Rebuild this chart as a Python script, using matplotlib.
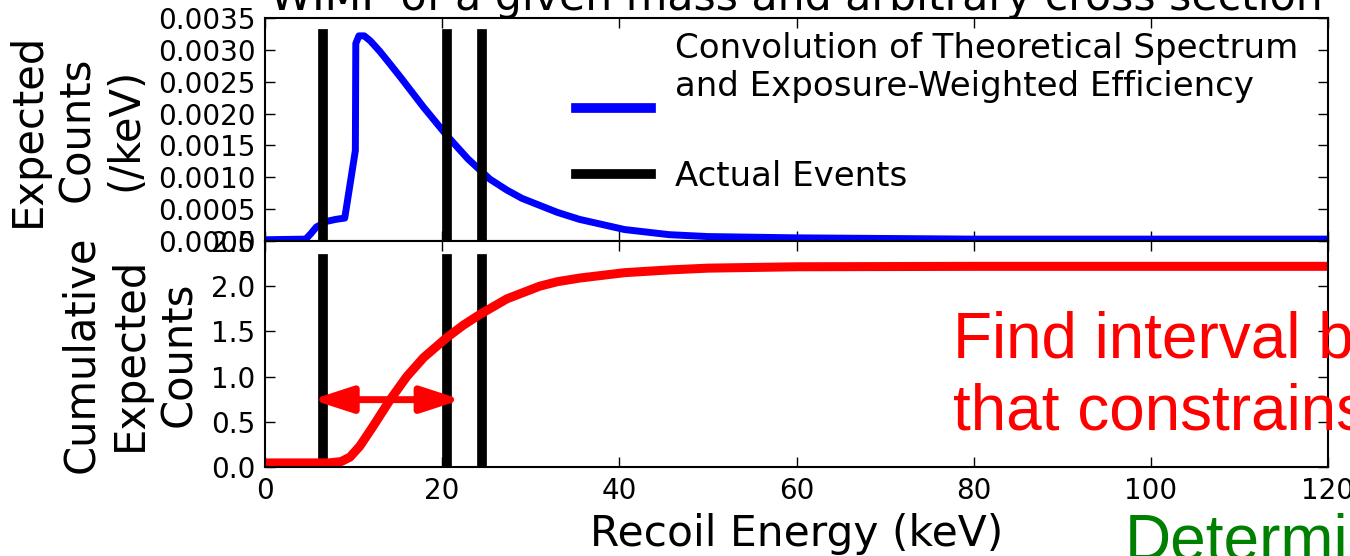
import numpy as np
import matplotlib
matplotlib.use('Agg')
from matplotlib import pyplot as plt
from matplotlib.offsetbox import TextArea
import matplotlib as mpl

mpl.rcParams['font.family'] = 'DejaVu Sans'
mpl.rcParams['axes.linewidth'] = 1.5

# expected differential counts (convolution of spectrum and efficiency)
spec_energy = [0, 4.6, 5.2, 5.8, 7.0, 8.0, 9.0, 10.2, 10.25, 10.6, 11.2, 11.9, 13.0, 14.1,
               15.3, 17.9, 20.5, 22.9, 24.3, 25.4, 27.3, 29.0, 31.0, 33.0, 35.5, 40.6,
               45.6, 50, 60, 80, 100, 120]
spec_counts = [0.00002, 0.00003, 0.00012, 0.00022, 0.00031, 0.00034, 0.00036, 0.00142,
               0.0031, 0.00322, 0.00322, 0.00314, 0.00297, 0.00278, 0.00257, 0.0021,
               0.00166, 0.00129, 0.00111, 0.00097, 0.0008, 0.00067, 0.00056, 0.00045,
               0.00034, 0.00018, 0.0001, 0.00007, 0.00005, 0.00003, 0.00003, 0.00003]

# cumulative expected counts
cum_energy = [0, 7.2, 8.6, 9.6, 10.7, 12.2, 14.1, 16.0, 17.9, 20.5, 22.4, 24.3, 27.3,
              31.0, 33.0, 35.5, 40.6, 45.6, 50, 60, 80, 100, 120]
cum_counts = [0.045, 0.045, 0.06, 0.11, 0.23, 0.45, 0.74, 1.0, 1.21, 1.43, 1.57, 1.69,
              1.86, 2.0, 2.05, 2.09, 2.15, 2.18, 2.20, 2.215, 2.22, 2.22, 2.22]

events = [6.6, 20.5, 24.5]
arrow_x = [5.27, 22.2]
arrow_y = 0.745

title = 'WIMP of a given mass and arbitrary cross section'

fig = plt.figure(figsize=(13.5, 5.56), dpi=100)
ax1 = fig.add_axes([0.1963, 0.5665, 0.7874, 0.4011])
ax2 = fig.add_axes([0.1963, 0.1601, 0.7874, 0.4064], sharex=ax1)

ax1.plot(spec_energy, spec_counts, color='#0000ff', lw=5,
         label='Convolution of Theoretical Spectrum\nand Exposure-Weighted Efficiency')
for i, e in enumerate(events):
    ax1.axvline(e, ymin=0, ymax=0.93, color='k', lw=7,
                label='Actual Events' if i == 0 else None)
    ax2.axvline(e, ymin=0, ymax=0.92, color='k', lw=7)
ax2.plot(cum_energy, cum_counts, color='#ff0000', lw=6.5)

ax2.annotate('', xy=(arrow_x[1], arrow_y), xytext=(arrow_x[0], arrow_y),
             arrowprops=dict(arrowstyle='<|-|>,head_length=0.4,head_width=0.13',
                             color='#ff0000', lw=5, mutation_scale=60,
                             shrinkA=0, shrinkB=0))

ax1.set_xlim(0, 120)
ax1.set_ylim(0, 0.0035)
ax1.set_yticks(np.arange(0, 0.00351, 0.0005))
ax1.set_yticklabels(['%.4f' % v for v in np.arange(0, 0.00351, 0.0005)])
ax2.set_ylim(0, 2.5)
ax2.set_yticks(np.arange(0, 2.51, 0.5))
ax2.set_yticklabels(['%.1f' % v for v in np.arange(0, 2.51, 0.5)])
ax2.set_xticks(range(0, 121, 20))

for ax in (ax1, ax2):
    ax.tick_params(direction='in', top=True, right=True, length=7, width=1,
                   labelsize=20, pad=7)
ax1.tick_params(labelbottom=False)

ax1.set_ylabel('Expected\nCounts\n(/keV)', fontsize=30, labelpad=8)
ax2.set_ylabel('Cumulative\nExpected\nCounts', fontsize=30, labelpad=8)
ax2.set_xlabel('Recoil Energy (keV)', fontsize=30.5, labelpad=6)

leg = ax1.legend(loc='upper right', bbox_to_anchor=(1.004, 1.09), frameon=False,
                 fontsize=24.5, handlelength=2.2, handletextpad=0.7,
                 labelspacing=1.68, borderaxespad=0.6)
for ta in leg.findobj(TextArea):
    ta._multilinebaseline = False
# old-style legend: thick handles, first one sits below its two-line label
for h in leg.legend_handles:
    h.set_linewidth(7)
h0 = leg.legend_handles[0]
h0.set_ydata(np.asarray(h0.get_ydata()) - 17)

fig.text(0.5896, 1 - 10 / 556, title, fontsize=30.7, ha='center', va='baseline')

fig.text(953 / 1350, 1 - 357 / 556, 'Find interval b', color='#ff0000', fontsize=46,
         family='Liberation Sans', va='baseline')
fig.text(953 / 1350, 1 - 429 / 556, 'that constrains', color='#ff0000', fontsize=46,
         family='Liberation Sans', va='baseline')
fig.text(1125 / 1350, 1 - 559 / 556, 'Determi', color='#008000', fontsize=46,
         family='Liberation Sans', va='baseline')

fig.savefig('out.png', dpi=100)
